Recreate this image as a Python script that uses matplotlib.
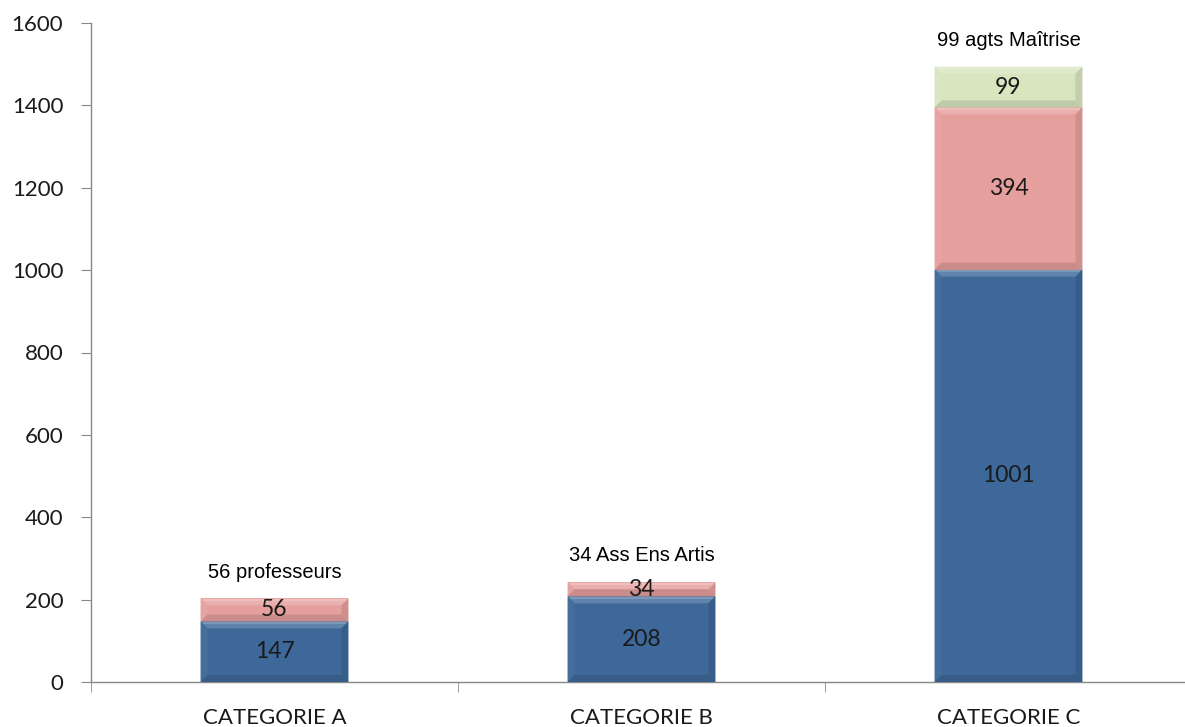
import numpy as np
import matplotlib.pyplot as plt
from matplotlib.patches import Polygon
from matplotlib.ticker import FixedLocator
import matplotlib.colors as mcolors

categories = ['CATEGORIE A', 'CATEGORIE B', 'CATEGORIE C']
base = [147, 208, 1001]
middle = [56, 34, 394]
top = [0, 0, 99]
notes = ['56 professeurs', '34 Ass Ens Artis', '99 agts Maîtrise']

blue = '#3D6899'
pink = '#E59F9D'
green = '#D8E5BF'
axis_grey = '#888888'

W, H = 1185, 727
fig = plt.figure(figsize=(W / 100, H / 100), dpi=100)
# axes placed in pixels: y axis at x=91, baseline at y=682, top (1600) at y=23
ax_l, ax_b, ax_w, ax_h = 91, 727 - 682, 1101, 659
ax = fig.add_axes([ax_l / W, ax_b / H, ax_w / W, ax_h / H])

x = np.arange(len(categories))
bw = 0.403
b1 = ax.bar(x, base, bw, color=blue, edgecolor='none', zorder=2)
b2 = ax.bar(x, middle, bw, bottom=base, color=pink, edgecolor='none', zorder=2)
bottom3 = np.array(base) + np.array(middle)
b3 = ax.bar(x, top, bw, bottom=bottom3, color=green, edgecolor='none', zorder=2)

ax.set_xlim(-0.5, 2.5)
ax.set_ylim(0, 1600)

# pixels per data unit, for the bevel edges
px_x = ax_w / 3.0
px_y = ax_h / 1600.0


def shade(c, f):
    r, g, b = mcolors.to_rgb(c)
    if f > 0:
        return (r + (1 - r) * f, g + (1 - g) * f, b + (1 - b) * f)
    return (r * (1 + f), g * (1 + f), b * (1 + f))


def bevel(patch, c, size=7):
    x0, y0 = patch.get_x(), patch.get_y()
    w, h = patch.get_width(), patch.get_height()
    if h <= 0:
        return
    x1, y1 = x0 + w, y0 + h
    bx = size / px_x
    by = min(size / px_y, h / 2)
    faces = [
        ([(x0, y1), (x1, y1), (x1 - bx, y1 - by), (x0 + bx, y1 - by)], 0.18),
        ([(x0, y0), (x0 + bx, y0 + by), (x0 + bx, y1 - by), (x0, y1)], 0.04),
        ([(x1, y0), (x1, y1), (x1 - bx, y1 - by), (x1 - bx, y0 + by)], -0.10),
        ([(x0, y0), (x1, y0), (x1 - bx, y0 + by), (x0 + bx, y0 + by)], -0.12),
    ]
    for pts, f in faces:
        ax.add_patch(Polygon(pts, closed=True, facecolor=shade(c, f),
                             edgecolor='none', zorder=3))
    # thin light line along the top edge
    ax.plot([x0 + bx * 0.3, x1 - bx * 0.3], [y1 - 1.2 / px_y] * 2,
            color=shade(c, 0.35), lw=1.2, zorder=3, solid_capstyle='butt')


for cont, c in [(b1, blue), (b2, pink), (b3, green)]:
    for p in cont.patches:
        bevel(p, c)

label_font = dict(family=['Lato', 'DejaVu Sans'], fontsize=16.5, color='#1a1a1a')
for cont, vals in [(b1, base), (b2, middle), (b3, top)]:
    for p, v in zip(cont.patches, vals):
        if v <= 0:
            continue
        ax.text(p.get_x() + p.get_width() / 2, p.get_y() + v / 2, str(v),
                ha='center', va='center', zorder=4, **label_font)

totals = bottom3 + np.array(top)
for xi, t, s in zip(x, totals, notes):
    ax.annotate(s, (xi, t), xytext=(0, 19), textcoords='offset points',
                ha='center', va='center', fontsize=14.5,
                family='Liberation Sans', color='black')

for side in ['top', 'right']:
    ax.spines[side].set_visible(False)
for side in ['left', 'bottom']:
    ax.spines[side].set_color(axis_grey)
    ax.spines[side].set_linewidth(1)

ax.set_yticks(range(0, 1601, 200))
ax.set_xticks(x)
ax.set_xticklabels(categories)
ax.xaxis.set_minor_locator(FixedLocator([-0.5, 0.5, 1.5, 2.5]))
ax.tick_params(axis='x', which='major', length=0, pad=19)
ax.tick_params(axis='x', which='minor', length=7, color=axis_grey, direction='out')
ax.tick_params(axis='y', length=7, color=axis_grey, direction='out', pad=13)
for lab in ax.get_xticklabels() + ax.get_yticklabels():
    lab.set_fontfamily(['Lato', 'DejaVu Sans'])
    lab.set_fontsize(16)
    lab.set_color('#1a1a1a')

fig.savefig('out.png', dpi=100)
